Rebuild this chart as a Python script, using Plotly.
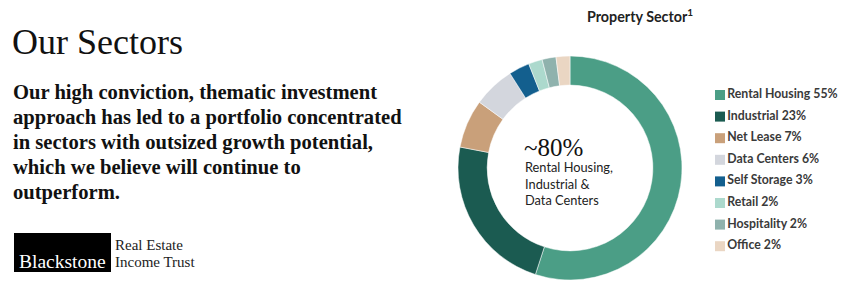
import plotly.graph_objects as go

# ---- data ----
sectors = ["Rental Housing", "Industrial", "Net Lease", "Data Centers",
           "Self Storage", "Retail", "Hospitality", "Office"]
shares = [55, 23, 7, 6, 3, 2, 2, 2]
colors = ["#4b9e86", "#1b5b51", "#c9a07a", "#d3d6dd",
          "#135f8e", "#acd9cd", "#8fb2ad", "#ead6c3"]
paragraph_lines = [
    "Our high conviction, thematic investment",
    "approach has led to a portfolio concentrated",
    "in sectors with outsized growth potential,",
    "which we believe will continue to",
    "outperform.",
]
center_big = "~80%"
center_small = ["Rental Housing,", "Industrial &", "Data Centers"]

W, H = 848, 303
SERIF = "Liberation Serif, Times New Roman, serif"
SANS = "Lato, Open Sans, sans-serif"

fig = go.Figure()

# donut
cx, cy, r = 570, 168, 112
fig.add_trace(go.Pie(
    labels=sectors, values=shares, sort=False, direction="clockwise",
    rotation=0, hole=0.74,
    marker=dict(colors=colors, line=dict(color="white", width=0.5)),
    textinfo="none", hoverinfo="label+percent", showlegend=False,
    domain=dict(x=[(cx - r) / W, (cx + r) / W],
                y=[(H - cy - r) / H, (H - cy + r) / H]),
))

# legend drawn as square markers + labels
leg_x, leg_y0, leg_dy = 720, 95, 21.6
fig.add_trace(go.Scatter(
    x=[leg_x] * len(sectors),
    y=[leg_y0 + i * leg_dy for i in range(len(sectors))],
    mode="markers+text",
    marker=dict(symbol="square", size=10, color=colors, line=dict(width=0)),
    text=[f"{s} {v}%" for s, v in zip(sectors, shares)],
    textposition="middle right",
    textfont=dict(family=SANS, size=12.3, color="#3a3a3a", weight=700),
    hoverinfo="skip", showlegend=False, cliponaxis=False,
))

fig.update_xaxes(range=[0, W], visible=False, fixedrange=True)
fig.update_yaxes(range=[H, 0], visible=False, fixedrange=True)

ann = []
def add(text, x, y, size, family, color="#111", xanchor="left", weight=None, yanchor="middle"):
    f = dict(size=size, family=family, color=color)
    if weight:
        f["weight"] = weight
    ann.append(dict(text=text, x=x / W, y=1 - y / H, xref="paper", yref="paper",
                    xanchor=xanchor, yanchor=yanchor, showarrow=False, font=f,
                    align="left"))

add("Our Sectors", 10, 42, 36, SERIF)
for i, line in enumerate(paragraph_lines):
    add(line, 11, 92 + i * 25, 20.6, SERIF, weight=700)

add("Property Sector<sup>1</sup>", 640, 16, 14.3, SANS, color="#222", xanchor="center", weight=700)
add(center_big, 522, 147, 25, SERIF)
add("<br>".join(center_small), 523, 183, 12.8, SANS, color="#222")

# logo
add("Blackstone", 17, 261, 19.5, SERIF, color="white")
add("Real Estate", 113, 245, 15, SERIF, color="#222")
add("Income Trust", 113, 262, 15, SERIF, color="#222")

fig.update_layout(
    width=W, height=H, margin=dict(l=0, r=0, t=0, b=0),
    paper_bgcolor="white", plot_bgcolor="white",
    annotations=ann,
    shapes=[dict(type="rect", xref="paper", yref="paper",
                 x0=14 / W, x1=111 / W, y0=1 - 272 / H, y1=1 - 233 / H,
                 fillcolor="black", line=dict(width=0), layer="below")],
)

fig.write_html("out.html")
